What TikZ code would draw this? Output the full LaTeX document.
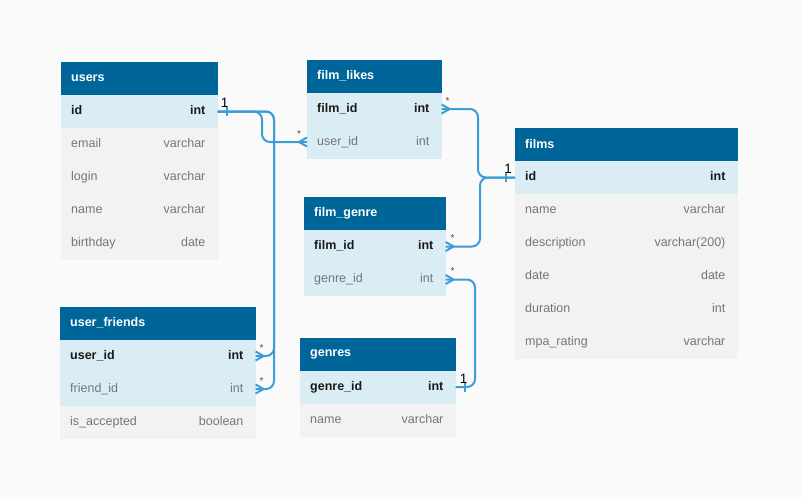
\documentclass[tikz,border=0pt]{standalone}
\usepackage{fontspec}
\setmainfont{Liberation Sans}
\usetikzlibrary{calc}

\definecolor{pagebg}{HTML}{FAFAFA}
\definecolor{hdrfill}{HTML}{006699}
\definecolor{keyfill}{HTML}{DAEDF5}
\definecolor{rowfill}{HTML}{F2F2F2}
\definecolor{keytext}{HTML}{1A1A1A}
\definecolor{softtext}{HTML}{767676}
\definecolor{linkblue}{HTML}{3D9DD7}

\tikzset{
  headbox/.style={draw=hdrfill, line width=0.6pt, fill=hdrfill, minimum height=32.4pt, inner sep=0pt},
  headtext/.style={anchor=west, text=white, font=\fontsize{12.5}{14}\selectfont\bfseries, inner sep=0pt},
  rowbox/.style={line width=0.6pt, minimum height=32.4pt, inner sep=0pt},
  coltext/.style={inner sep=0pt, text height=9pt, text depth=2.5pt, font=\fontsize{12.5}{14}\selectfont},
  keycol/.style={coltext, text=keytext, font=\fontsize{12.5}{14}\selectfont\bfseries},
  softcol/.style={coltext, text=softtext},
  conn/.style={draw=linkblue, line width=2pt, rounded corners=8pt},
  prong/.style={draw=linkblue, line width=2pt},
  oneLabel/.style={inner sep=0pt, text=black, font=\fontsize{13.5}{14}\selectfont},
  manyLabel/.style={inner sep=0pt, text=keytext!80, font=\fontsize{10}{12}\selectfont},
}

% table header: name, x, y, width, title
\newcommand{\tblhead}[5]{%
  \node[headbox, minimum width=#4pt, anchor=north west] (#1) at (#2,#3) {};
  \node[headtext] (#1-title) at ([xshift=10pt]#1.west) {#5};
}
% table row: name, row above, width, fill, text style, column, type
\newcommand{\tblrow}[7]{%
  \node[rowbox, fill=#4, draw=#4, minimum width=#3pt, anchor=north west] (#1) at (#2.south west) {};
  \node[#5, anchor=west] (#1-col) at ([xshift=10pt]#1.west) {#6};
  \node[#5, anchor=east] (#1-type) at ([xshift=-12pt]#1.east) {#7};
}
% crow's foot at a table edge: anchor, direction (1 right, -1 left)
\newcommand{\crowfoot}[2]{%
  \draw[prong] ($(#1)+(0,-4.5)$) -- ($(#1)+(#2*8,0)$) -- ($(#1)+(0,4.5)$);
}
% single bar near a table edge: anchor, direction
\newcommand{\onebar}[2]{%
  \draw[prong] ($(#1)+(#2*9,-4.5)$) -- ($(#1)+(#2*9,4.5)$);
}

\begin{document}
\begin{tikzpicture}[x=1pt,y=-1pt]
\fill[pagebg] (0,0) rectangle (802,499);
\useasboundingbox (0,0) rectangle (802,499);

% users
\tblhead{users}{61}{62}{156}{users}
\tblrow{users-id}{users}{156}{keyfill}{keycol}{id}{int}
\tblrow{users-email}{users-id}{156}{rowfill}{softcol}{email}{varchar}
\tblrow{users-login}{users-email}{156}{rowfill}{softcol}{login}{varchar}
\tblrow{users-name}{users-login}{156}{rowfill}{softcol}{name}{varchar}
\tblrow{users-birthday}{users-name}{156}{rowfill}{softcol}{birthday}{date}

% film_likes
\tblhead{likes}{307}{59.5}{134}{film\_likes}
\tblrow{likes-film}{likes}{134}{keyfill}{keycol}{film\_id}{int}
\tblrow{likes-user}{likes-film}{134}{keyfill}{softcol}{user\_id}{int}

% films
\tblhead{films}{515}{128}{222}{films}
\tblrow{films-id}{films}{222}{keyfill}{keycol}{id}{int}
\tblrow{films-name}{films-id}{222}{rowfill}{softcol}{name}{varchar}
\tblrow{films-desc}{films-name}{222}{rowfill}{softcol}{description}{varchar(200)}
\tblrow{films-date}{films-desc}{222}{rowfill}{softcol}{date}{date}
\tblrow{films-dur}{films-date}{222}{rowfill}{softcol}{duration}{int}
\tblrow{films-mpa}{films-dur}{222}{rowfill}{softcol}{mpa\_rating}{varchar}

% film_genre
\tblhead{fgenre}{304}{197}{141}{film\_genre}
\tblrow{fgenre-film}{fgenre}{141}{keyfill}{keycol}{film\_id}{int}
\tblrow{fgenre-genre}{fgenre-film}{141}{keyfill}{softcol}{genre\_id}{int}

% user_friends
\tblhead{friends}{60}{306.5}{195}{user\_friends}
\tblrow{friends-user}{friends}{195}{keyfill}{keycol}{user\_id}{int}
\tblrow{friends-friend}{friends-user}{195}{keyfill}{softcol}{friend\_id}{int}
\tblrow{friends-acc}{friends-friend}{195}{rowfill}{softcol}{is\_accepted}{boolean}

% genres
\tblhead{genres}{300}{337.5}{155}{genres}
\tblrow{genres-id}{genres}{155}{keyfill}{keycol}{genre\_id}{int}
\tblrow{genres-name}{genres-id}{155}{rowfill}{softcol}{name}{varchar}

% bend columns of the connectors
\coordinate (bendLikes) at (262,0);
\coordinate (bendFriends) at (274,0);
\coordinate (bendFilmsUp) at (478,0);
\coordinate (bendFilmsDown) at (480,0);
\coordinate (bendGenres) at (475,0);

% users.id -> film_likes.user_id
\draw[conn] (users-id.east) -| (bendLikes |- likes-user.west) -- (likes-user.west);
% users.id -> user_friends.user_id / friend_id
\draw[conn] (users-id.east) -| (bendFriends |- friends-user.east) -- (friends-user.east);
\draw[conn] (users-id.east) -| (bendFriends |- friends-friend.east) -- (friends-friend.east);
% films.id -> film_likes.film_id / film_genre.film_id
\draw[conn] (films-id.west) -| (bendFilmsUp |- likes-film.east) -- (likes-film.east);
\draw[conn] (films-id.west) -| (bendFilmsDown |- fgenre-film.east) -- (fgenre-film.east);
% genres.genre_id -> film_genre.genre_id
\draw[conn] (genres-id.east) -| (bendGenres |- fgenre-genre.east) -- (fgenre-genre.east);

% ends of the relations
\onebar{users-id.east}{1}
\onebar{films-id.west}{-1}
\onebar{genres-id.east}{1}
\crowfoot{likes-user.west}{-1}
\crowfoot{likes-film.east}{1}
\crowfoot{friends-user.east}{1}
\crowfoot{friends-friend.east}{1}
\crowfoot{fgenre-film.east}{1}
\crowfoot{fgenre-genre.east}{1}

% multiplicities
\node[oneLabel] (m-users) at ($(users-id.east)+(7,-9)$) {1};
\node[oneLabel] (m-films) at ($(films-id.west)+(-7,-9)$) {1};
\node[oneLabel] (m-genres) at ($(genres-id.east)+(8,-8)$) {1};
\node[manyLabel] (m-likes-user) at ($(likes-user.west)+(-8,-8)$) {*};
\node[manyLabel] (m-likes-film) at ($(likes-film.east)+(6,-8)$) {*};
\node[manyLabel] (m-friends-user) at ($(friends-user.east)+(6,-8)$) {*};
\node[manyLabel] (m-friends-friend) at ($(friends-friend.east)+(6,-8)$) {*};
\node[manyLabel] (m-fgenre-film) at ($(fgenre-film.east)+(7,-8)$) {*};
\node[manyLabel] (m-fgenre-genre) at ($(fgenre-genre.east)+(7,-8)$) {*};
\end{tikzpicture}
\end{document}
